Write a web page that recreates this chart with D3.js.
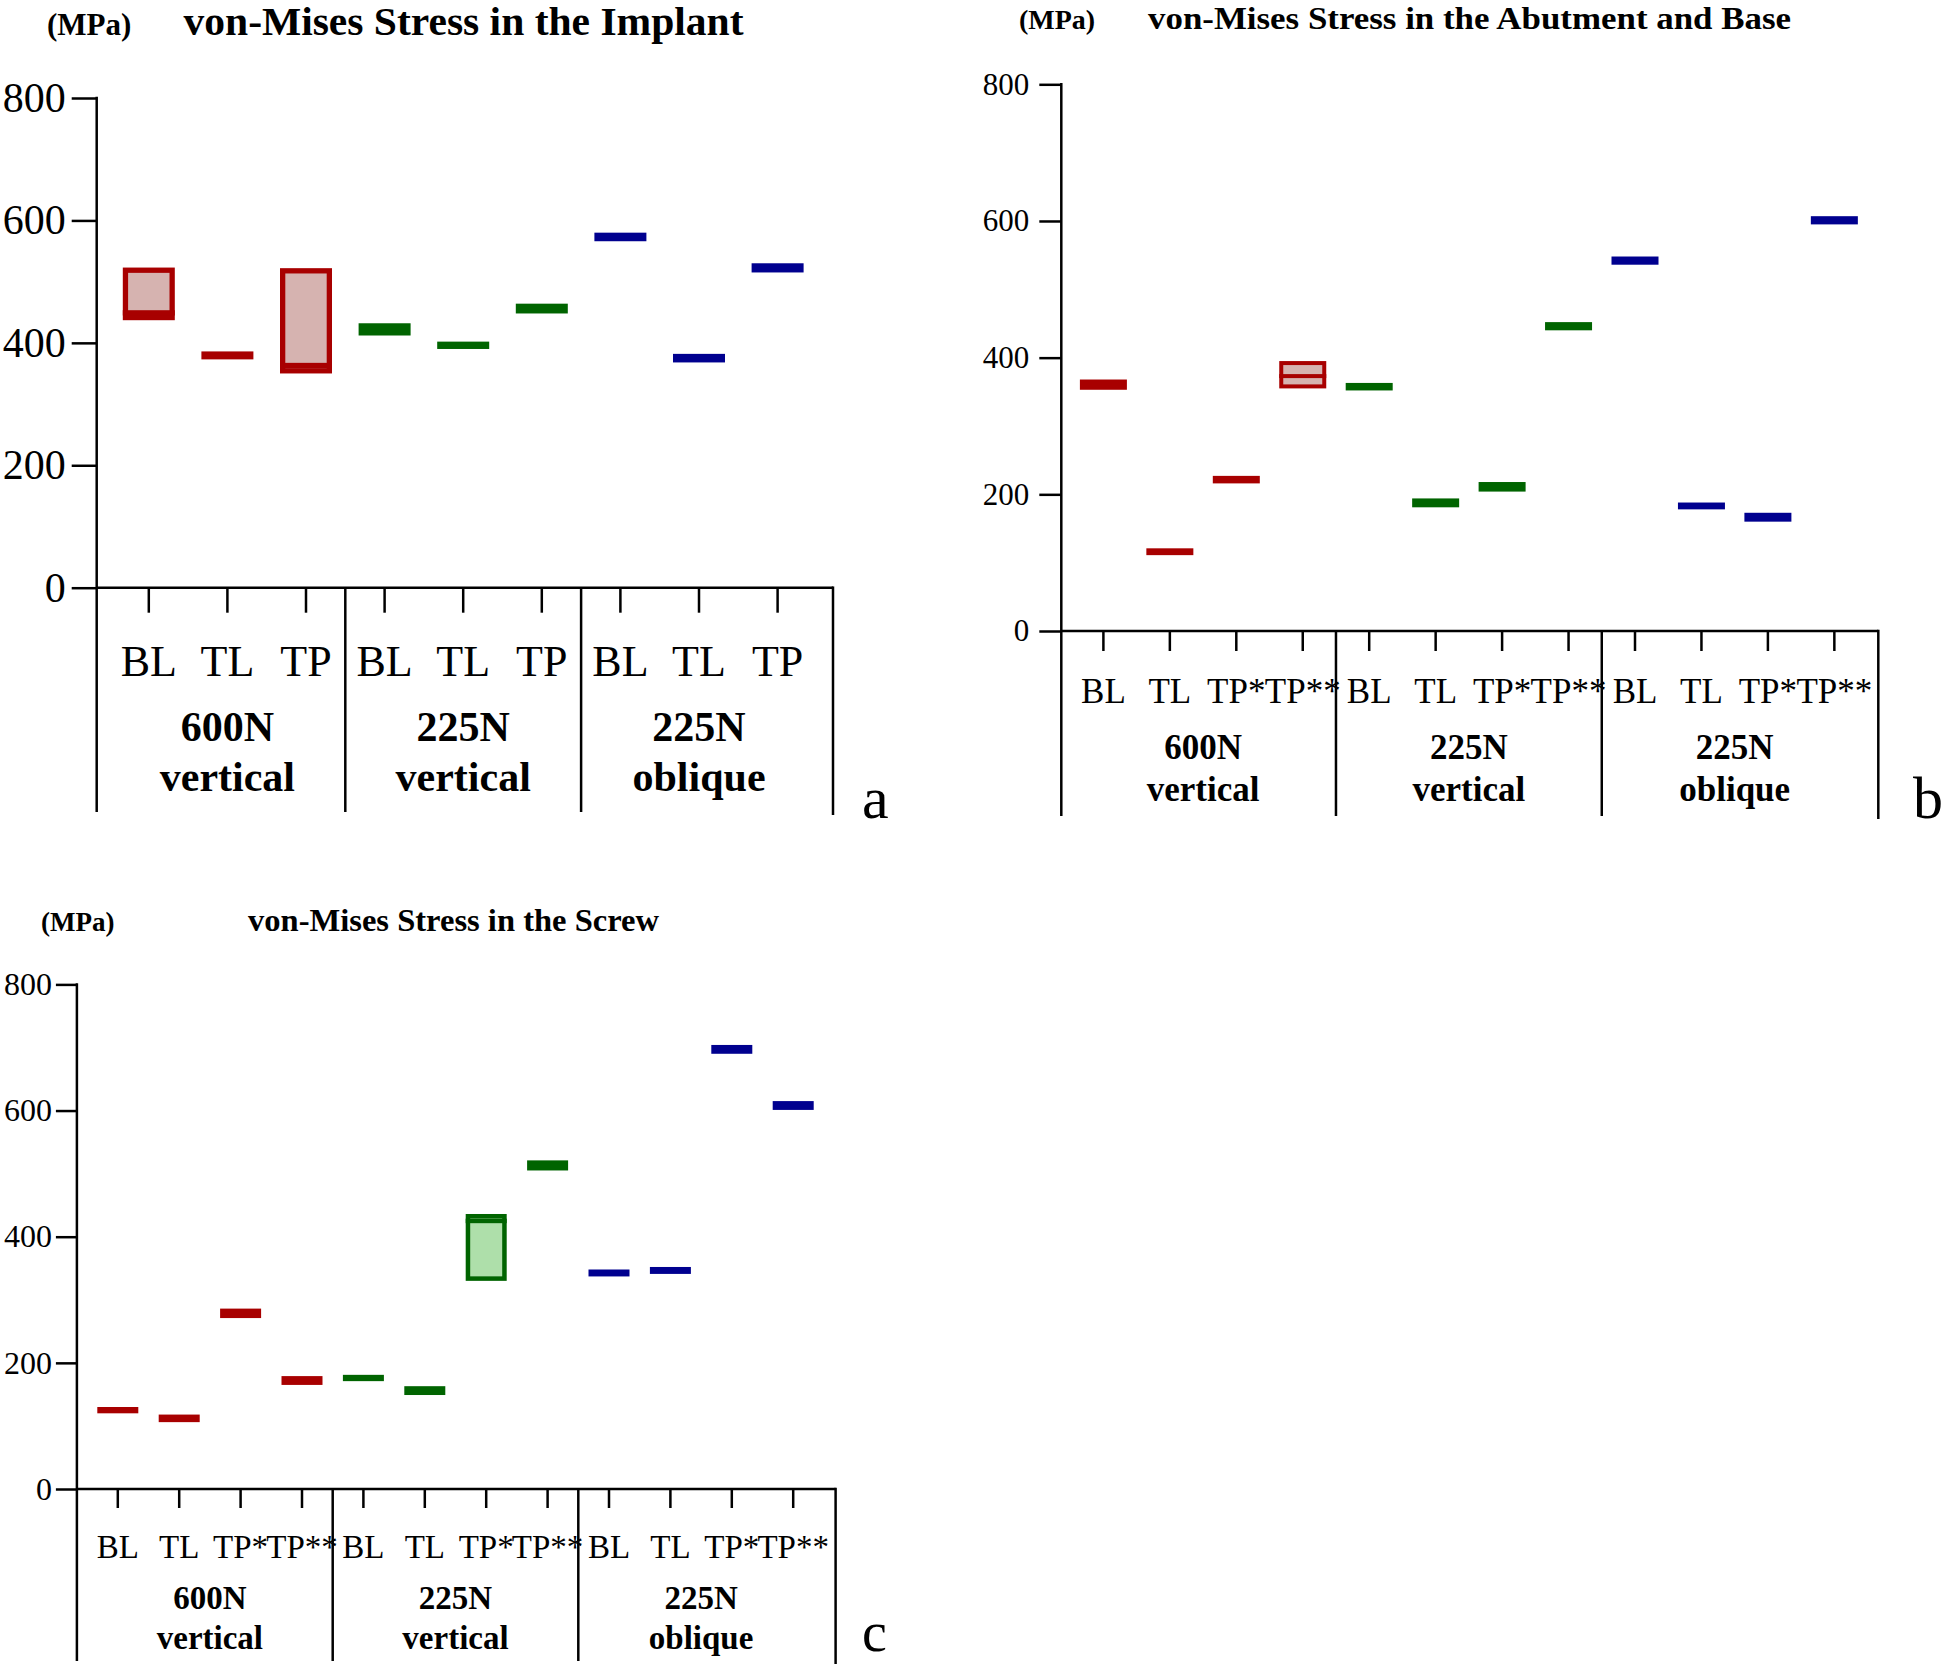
<!DOCTYPE html>
<html><head><meta charset="utf-8">
<script src="https://cdn.jsdelivr.net/npm/d3@7"></script>
<style>
body{margin:0;background:#fff}
svg{display:block}
text{font-family:"Liberation Serif","Times New Roman",serif;fill:#000}
</style>
</head><body>
<svg id="chart" width="1944" height="1665"></svg>
<script>
// ---------------- data ----------------
const groupNames = [["600N","vertical"],["225N","vertical"],["225N","oblique"]];
const catsImplant = ["BL","TL","TP"];
const catsAbutment = ["BL","TL","TP*","TP**"];
const catsScrew = ["BL","TL","TP*","TP**"];
const yTicks = [0,200,400,600,800];

// von-Mises stress (MPa): lower edge, upper edge, mean line (null = none)
const implantLow  = [437, 373, 350, 412, 390, 448, 566, 368, 515];
const implantHigh = [523, 386, 522, 432, 402, 464, 580, 382, 530];
const implantMean = [449, null, 363, null, null, null, null, null, null];

const abutmentLow  = [353, 111, 216, 355, 352, 181, 204, 440, 536, 178, 160, 595];
const abutmentHigh = [368, 121, 227, 395, 363, 194, 218, 452, 548, 188, 173, 607];
const abutmentMean = [null, null, null, 373, null, null, null, null, null, null, null, null];

const screwLow  = [120, 106, 271, 165, 171, 149, 330, 505, 337, 341, 690, 601];
const screwHigh = [130, 118, 286, 179, 181, 163, 436, 521, 348, 352, 704, 615];
const screwMean = [null, null, null, null, null, null, 425, null, null, null, null, null];

const darkColors  = ["#a80000", "#006400", "#00008f"];
const lightColors = ["#d6b3b0", "#aedfaa", "#b0b4e0"];

// ---------------- layout ----------------
const panels = [
  {title:"von-Mises Stress in the Implant", letter:"a", cats:catsImplant,
   low:implantLow, high:implantHigh, mean:implantMean,
   axisX:96.7, y0:587.7, y800:98, x0:148.8, step:78.6, rightX:833, bottom:812,
   tickLen:25, tickPad:6, tickFont:42, xTickLen:25,
   catBase:676, catFont:44, grpBase1:741, grpBase2:791, grpFont:42,
   barW:52, border:5.3,
   mpaX:47, mpaY:35, mpaSize:31, titleX:183.5, titleY:35, titleSize:39, titleLen:560,
   letterX:862, letterY:818, letterSize:60},
  {title:"von-Mises Stress in the Abutment and Base", letter:"b", cats:catsAbutment,
   low:abutmentLow, high:abutmentHigh, mean:abutmentMean,
   axisX:1061.3, y0:631, y800:84.3, x0:1103.4, step:66.45, rightX:1878.3, bottom:816,
   tickLen:22, tickPad:10, tickFont:31, xTickLen:20,
   catBase:703, catFont:35, grpBase1:759, grpBase2:801, grpFont:35,
   barW:47, border:4,
   mpaX:1019, mpaY:29, mpaSize:28, titleX:1148, titleY:29, titleSize:32.5, titleLen:643,
   letterX:1913, letterY:818, letterSize:60},
  {title:"von-Mises Stress in the Screw", letter:"c", cats:catsScrew,
   low:screwLow, high:screwHigh, mean:screwMean,
   axisX:76.9, y0:1489, y800:984.4, x0:117.8, step:61.4, rightX:835.6, bottom:1661,
   tickLen:21, tickPad:4, tickFont:32, xTickLen:19,
   catBase:1558, catFont:33, grpBase1:1609, grpBase2:1649, grpFont:33,
   barW:41, border:4.5,
   mpaX:41, mpaY:931, mpaSize:27, titleX:248, titleY:931, titleSize:32.6, titleLen:411,
   letterX:862, letterY:1651, letterSize:56}
];

const svg = d3.select("#chart");
svg.append("rect").attr("width",1944).attr("height",1665).attr("fill","#fff");
const AXW = 2.5;

panels.forEach(p => {
  const g = svg.append("g");
  const n = p.cats.length;
  const total = n * groupNames.length;
  const idx = d3.range(total);
  const y = d3.scaleLinear().domain([0,800]).range([p.y0, p.y800]);
  const x = d3.scaleLinear()
    .domain([(p.axisX - p.x0)/p.step, (p.rightX - p.x0)/p.step])
    .range([p.axisX, p.rightX]);

  // titles
  g.append("text").attr("x",p.mpaX).attr("y",p.mpaY)
    .attr("font-size",p.mpaSize).attr("font-weight","bold").text("(MPa)");
  g.append("text").attr("x",p.titleX).attr("y",p.titleY)
    .attr("font-size",p.titleSize).attr("font-weight","bold")
    .attr("textLength",p.titleLen).attr("lengthAdjust","spacingAndGlyphs")
    .text(p.title);

  // y axis
  const ya = d3.axisLeft(y).tickValues(yTicks).tickSize(p.tickLen)
    .tickPadding(p.tickPad).tickSizeOuter(0);
  const yg = g.append("g").attr("transform",`translate(${p.axisX},0)`).call(ya);
  yg.select(".domain").remove();
  yg.selectAll(".tick line").attr("stroke","#000").attr("stroke-width",AXW);
  yg.selectAll(".tick text").attr("font-size",p.tickFont)
    .attr("font-family","'Liberation Serif','Times New Roman',serif").attr("fill","#000");
  g.append("line").attr("x1",p.axisX).attr("x2",p.axisX)
    .attr("y1",y(800)-AXW/2).attr("y2",p.bottom)
    .attr("stroke","#000").attr("stroke-width",AXW);

  // x axis baseline
  g.append("line").attr("x1",p.axisX).attr("x2",p.rightX)
    .attr("y1",y(0)).attr("y2",y(0)).attr("stroke","#000").attr("stroke-width",AXW);
  // category ticks
  g.selectAll(".xt").data(idx).join("line")
    .attr("x1",d=>x(d)).attr("x2",d=>x(d))
    .attr("y1",y(0)).attr("y2",y(0)+p.xTickLen)
    .attr("stroke","#000").attr("stroke-width",AXW);
  // group separators and right end
  const seps = d3.range(1, groupNames.length).map(k => k*n - 0.5);
  g.selectAll(".sep").data(seps).join("line")
    .attr("x1",d=>x(d)).attr("x2",d=>x(d))
    .attr("y1",y(0)).attr("y2",p.bottom)
    .attr("stroke","#000").attr("stroke-width",AXW);
  g.append("line").attr("x1",p.rightX).attr("x2",p.rightX)
    .attr("y1",y(0)-AXW/2).attr("y2",p.bottom+3)
    .attr("stroke","#000").attr("stroke-width",AXW);

  // category labels
  g.selectAll(".cl").data(idx).join("text")
    .attr("x",d=>x(d)).attr("y",p.catBase)
    .attr("text-anchor","middle").attr("font-size",p.catFont)
    .text(d=>p.cats[d % n]);
  // group labels
  groupNames.forEach((gn,k) => {
    const cx = x(k*n + (n-1)/2);
    g.append("text").attr("x",cx).attr("y",p.grpBase1).attr("text-anchor","middle")
      .attr("font-size",p.grpFont).attr("font-weight","bold").text(gn[0]);
    g.append("text").attr("x",cx).attr("y",p.grpBase2).attr("text-anchor","middle")
      .attr("font-size",p.grpFont).attr("font-weight","bold").text(gn[1]);
  });

  // floating bars
  const b = p.border;
  const bars = g.append("g");
  idx.forEach(i => {
    const grp = Math.floor(i / n);
    const xl = x(i) - p.barW/2;
    const yt = y(p.high[i]), yb = y(p.low[i]);
    const h = yb - yt;
    bars.append("rect").attr("x",xl).attr("y",yt).attr("width",p.barW).attr("height",h)
      .attr("fill",darkColors[grp]);
    if (p.mean[i] != null) {
      bars.append("rect").attr("x",xl+b).attr("y",yt+b)
        .attr("width",p.barW-2*b).attr("height",h-2*b)
        .attr("fill",lightColors[grp]);
      bars.append("rect").attr("x",xl).attr("y",y(p.mean[i]) - b/2)
        .attr("width",p.barW).attr("height",b).attr("fill",darkColors[grp]);
    }
  });

  // panel letter
  g.append("text").attr("x",p.letterX).attr("y",p.letterY)
    .attr("font-size",p.letterSize).text(p.letter);
});
</script>
</body></html>
